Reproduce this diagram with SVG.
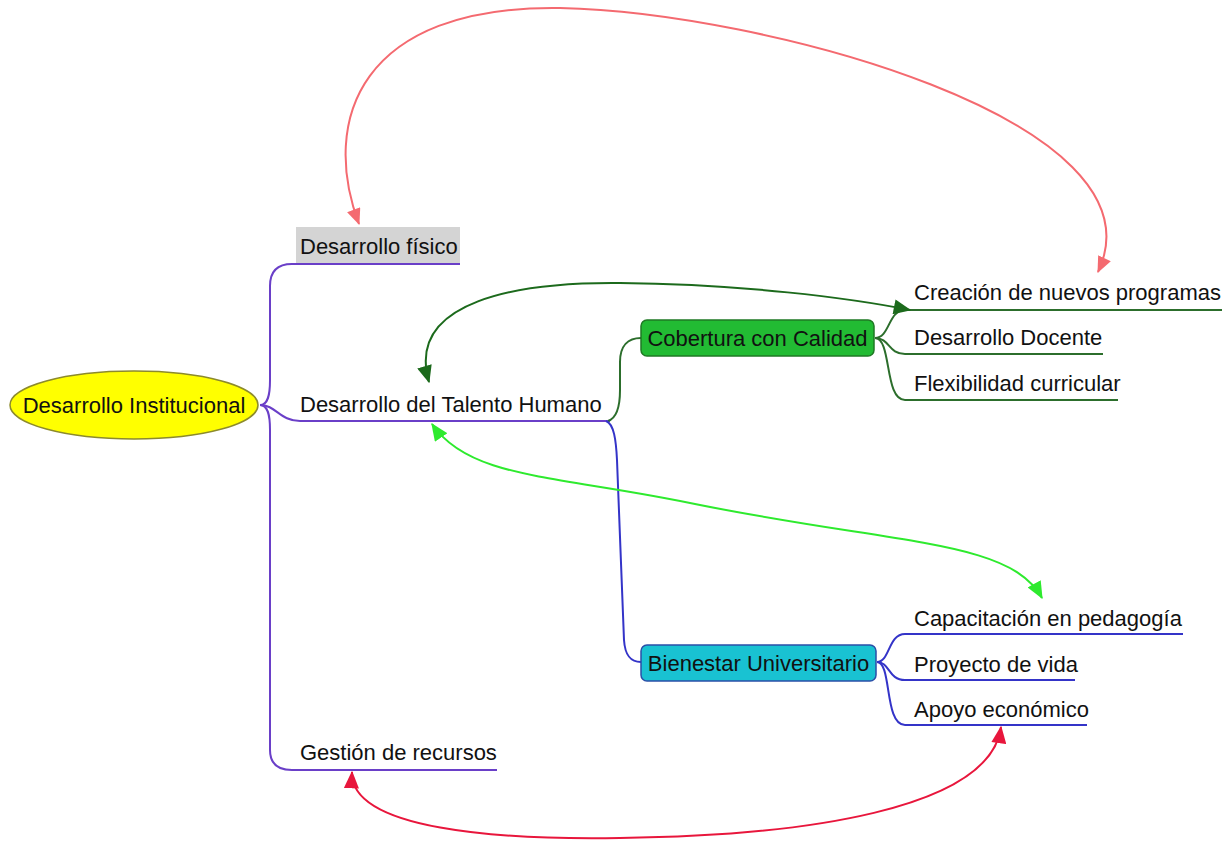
<svg xmlns="http://www.w3.org/2000/svg" width="1227" height="842" viewBox="0 0 1227 842">
<defs>
<style>
text{font-family:"Liberation Sans",Arial,sans-serif;font-size:22px;fill:#111}
.pur{fill:none;stroke:#6a3fc8;stroke-width:2}
.dg{fill:none;stroke:#2c6e2c;stroke-width:2}
.bl{fill:none;stroke:#3434c8;stroke-width:2}
.rel{fill:none;stroke-width:2}
</style>
<marker id="aSalmon" viewBox="0 0 14 12" refX="13" refY="6" markerWidth="17" markerHeight="14" markerUnits="userSpaceOnUse" orient="auto-start-reverse"><path d="M0,0 L14,6 L0,12 Z" fill="#f46a70"/></marker>
<marker id="aDark" viewBox="0 0 14 12" refX="13" refY="6" markerWidth="18" markerHeight="15" markerUnits="userSpaceOnUse" orient="auto-start-reverse"><path d="M0,0 L14,6 L0,12 Z" fill="#1c6a1c"/></marker>
<marker id="aLime" viewBox="0 0 14 12" refX="13" refY="6" markerWidth="18" markerHeight="15" markerUnits="userSpaceOnUse" orient="auto-start-reverse"><path d="M0,0 L14,6 L0,12 Z" fill="#2eea2e"/></marker>
<marker id="aRed" viewBox="0 0 14 12" refX="13" refY="6" markerWidth="18" markerHeight="15" markerUnits="userSpaceOnUse" orient="auto-start-reverse"><path d="M0,0 L14,6 L0,12 Z" fill="#e8163c"/></marker>
</defs>
<rect width="1227" height="842" fill="#ffffff"/>

<g id="connectors">
<path class="pur" d="M260 405 C268 405 270 395 270 380 L270 286 Q270 264 292 264 L460 264"/>
<path class="pur" d="M260 405 C276 405 280 421 300 421 L610 421"/>
<path class="pur" d="M260 405 C268 405 270 415 270 430 L270 750 Q270 770 292 770 L497 770"/>
<path class="dg" d="M608 421 C617 418 620 405 620 390 L620 362 C620 346 628 338 641 338"/>
<path class="bl" d="M606 421 C614 424 616 440 617 460 L624 640 C625 655 630 662 641 662"/>
<path class="dg" d="M875 338 C890 338 888 310 905 310 L1222 310"/>
<path class="dg" d="M875 338 C890 338 888 354 905 354 L1103 354"/>
<path class="dg" d="M875 338 C892 338 884 400 905 400 L1118 400"/>
<path class="bl" d="M877 662 C890 662 888 634 905 634 L1183 634"/>
<path class="bl" d="M877 662 C890 662 888 680 905 680 L1075 680"/>
<path class="bl" d="M877 662 C892 662 884 725 905 725 L1087 725"/>
<path class="rel" stroke="#f46a70" marker-start="url(#aSalmon)" marker-end="url(#aSalmon)" d="M359 224 C320 120 360 5 560 8 C760 12 1170 120 1098 272"/>
<path class="rel" stroke="#1c6a1c" marker-start="url(#aDark)" marker-end="url(#aDark)" d="M429 382 C405 300 520 282 620 283 C740 284 850 298 910 310"/>
<path class="rel" stroke="#2eea2e" marker-start="url(#aLime)" marker-end="url(#aLime)" d="M432 424 C470 480 560 475 700 505 C900 545 1010 540 1042 598"/>
<path class="rel" stroke="#e8163c" marker-start="url(#aRed)" marker-end="url(#aRed)" d="M352 772 C350 830 500 840 620 838 C800 836 990 810 1001 727"/>
</g>

<g id="n-root">
<ellipse cx="134" cy="405" rx="124" ry="34" fill="#ffff00" stroke="#8c8a2c" stroke-width="1.5"/>
<text x="134" y="413" text-anchor="middle">Desarrollo Institucional</text>
</g>
<g id="n-fisico">
<rect x="296" y="227" width="164" height="37" fill="#d4d4d4"/>
<line x1="296" y1="264" x2="460" y2="264" stroke="#6a3fc8" stroke-width="2"/>
<text x="300" y="254">Desarrollo físico</text>
</g>
<g id="n-talento"><text x="300" y="412">Desarrollo del Talento Humano</text></g>
<g id="n-gestion"><text x="300" y="760">Gestión de recursos</text></g>
<g id="n-cobertura">
<rect x="641" y="320" width="233" height="36" rx="6" fill="#22bb33" stroke="#1f7a24" stroke-width="1.5"/>
<text x="757.5" y="346" text-anchor="middle">Cobertura con Calidad</text>
</g>
<g id="n-bienestar">
<rect x="641" y="645" width="235" height="36" rx="6" fill="#19c2d2" stroke="#2a4fa8" stroke-width="1.5"/>
<text x="758.5" y="671" text-anchor="middle">Bienestar Universitario</text>
</g>
<g id="n-creacion"><text x="914" y="300">Creación de nuevos programas</text></g>
<g id="n-docente"><text x="914" y="345">Desarrollo Docente</text></g>
<g id="n-flex"><text x="914" y="391">Flexibilidad curricular</text></g>
<g id="n-capacitacion"><text x="914" y="626">Capacitación en pedagogía</text></g>
<g id="n-proyecto"><text x="914" y="672">Proyecto de vida</text></g>
<g id="n-apoyo"><text x="914" y="717">Apoyo económico</text></g>
</svg>
